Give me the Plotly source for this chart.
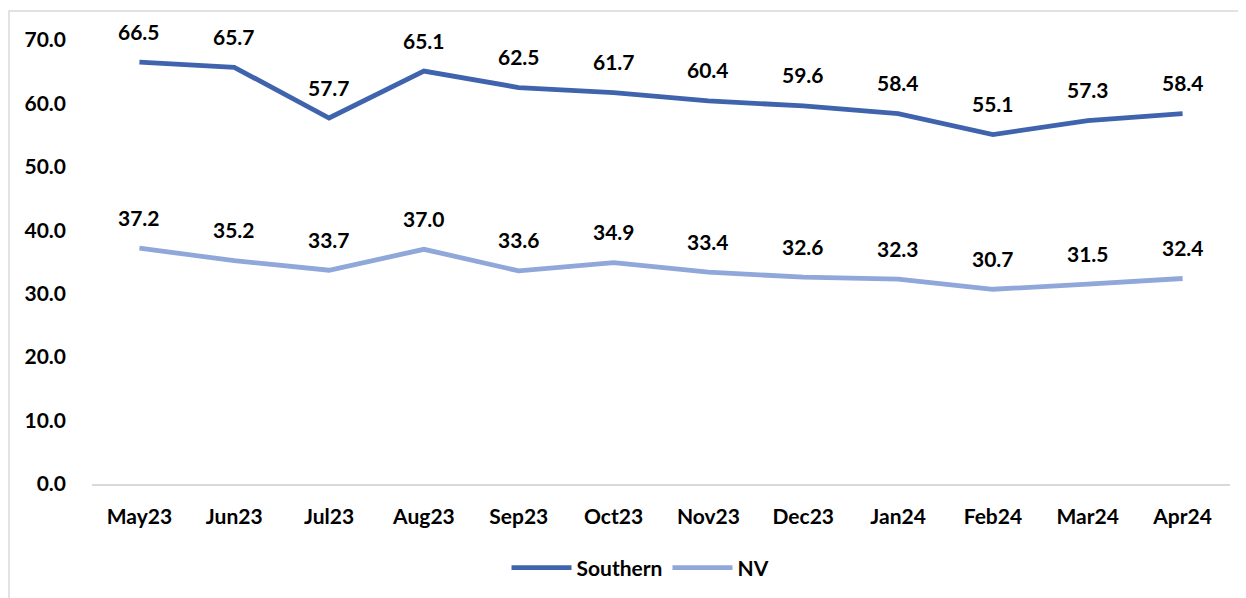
import plotly.graph_objects as go

months = ["May23", "Jun23", "Jul23", "Aug23", "Sep23", "Oct23",
          "Nov23", "Dec23", "Jan24", "Feb24", "Mar24", "Apr24"]
southern = [66.5, 65.7, 57.7, 65.1, 62.5, 61.7, 60.4, 59.6, 58.4, 55.1, 57.3, 58.4]
nv = [37.2, 35.2, 33.7, 37.0, 33.6, 34.9, 33.4, 32.6, 32.3, 30.7, 31.5, 32.4]
y_ticks = [0, 10, 20, 30, 40, 50, 60, 70]

c_south = "#3F64AD"
c_nv = "#8FA7D9"
font_family = "Lato, 'Open Sans', 'Liberation Sans', sans-serif"

fig = go.Figure()
fig.add_trace(go.Scatter(x=months, y=southern, name="<b>Southern</b>", mode="lines",
                         line=dict(color=c_south, width=4.8)))
fig.add_trace(go.Scatter(x=months, y=nv, name="<b>NV</b>", mode="lines",
                         line=dict(color=c_nv, width=4.8)))

annotations = []
for series in (southern, nv):
    for m, v in zip(months, series):
        annotations.append(dict(x=m, y=v, xref="x", yref="y", text=f"<b>{v:.1f}</b>",
                                showarrow=False, yshift=31,
                                font=dict(size=21, color="#000000", family=font_family)))

fig.update_layout(
    width=1246, height=598,
    margin=dict(l=84, r=24, t=32, b=122),
    paper_bgcolor="white", plot_bgcolor="white",
    font=dict(family=font_family, size=21, color="#000000"),
    annotations=annotations,
    showlegend=True,
    legend=dict(orientation="h", x=0.482, xanchor="center", y=-0.189, yanchor="middle",
                font=dict(size=21, family=font_family, color="#000000"),
                itemwidth=60, tracegroupgap=0),
    xaxis=dict(range=[-0.5, 11.5], showgrid=False, showline=True, linecolor="#D9D9D9",
               linewidth=2, ticks="", tickvals=months,
               ticktext=[f"<b>{m}</b>" for m in months],
               tickfont=dict(size=21, family=font_family, color="#000000"),
               ticklabelstandoff=13, zeroline=False),
    yaxis=dict(range=[0, 70], tickvals=y_ticks,
               ticktext=[f"<b>{v:.1f}</b>" for v in y_ticks],
               showgrid=False, showline=False,
               zeroline=False, ticks="", ticklabelstandoff=25,
               tickfont=dict(size=21, family=font_family, color="#000000")),
    shapes=[dict(type="rect", xref="paper", yref="paper",
                 x0=-0.0729, x1=1.05, y0=-0.35, y1=1.0653,
                 line=dict(color="#D9D9D9", width=1.5), fillcolor="rgba(0,0,0,0)",
                 layer="below")],
)

fig.write_html("out.html")
